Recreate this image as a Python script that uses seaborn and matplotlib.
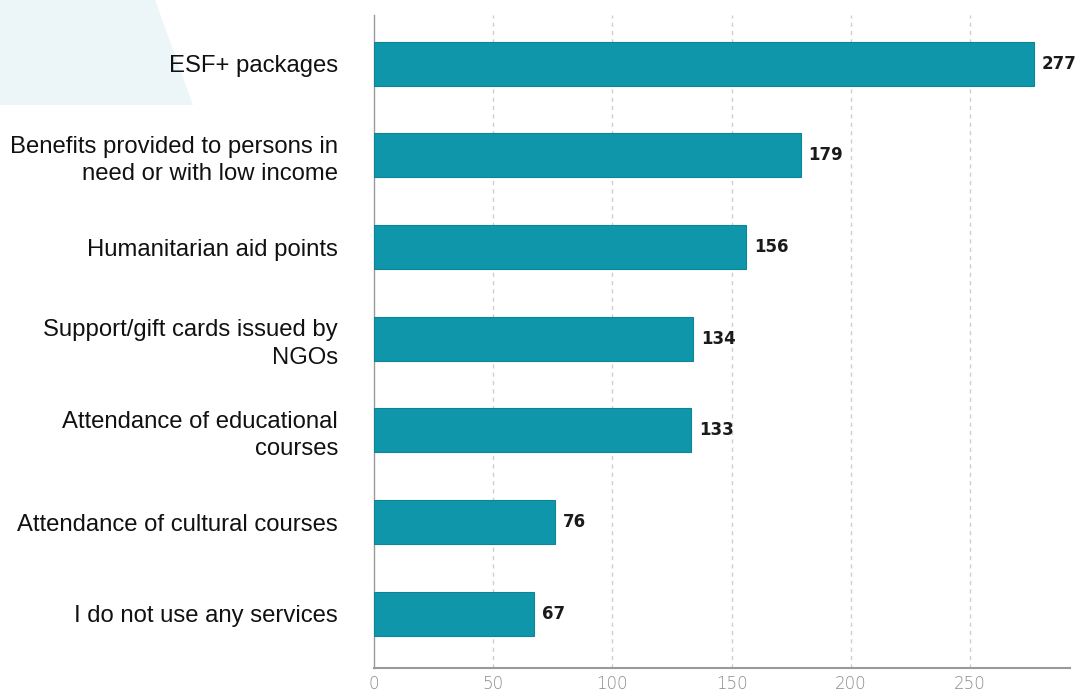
import matplotlib
matplotlib.use("Agg")
import matplotlib.pyplot as plt
import seaborn as sns
import pandas as pd
from matplotlib.patches import Polygon

categories = [
    "ESF+ packages",
    "Benefits provided to persons in\nneed or with low income",
    "Humanitarian aid points",
    "Support/gift cards issued by\nNGOs",
    "Attendance of educational\ncourses",
    "Attendance of cultural courses",
    "I do not use any services",
]
values = [277, 179, 156, 134, 133, 76, 67]
x_ticks = [0, 50, 100, 150, 200, 250]

sns.set_theme(style="white")
plt.rcParams["font.family"] = ["Liberation Sans", "DejaVu Sans"]

df = pd.DataFrame({"service": categories, "count": values})

fig = plt.figure(figsize=(10.88, 6.93), dpi=100)

# pale decorative shape in the top-left corner, behind everything else
shape = Polygon([(0, 1.0), (155 / 1088, 1.0), (193 / 1088, 1 - 105 / 693), (0, 1 - 105 / 693)],
                closed=True, transform=fig.transFigure, facecolor="#ecf5f7",
                edgecolor="none", zorder=-5)
fig.patches.append(shape)

ax = fig.add_axes([374 / 1088, 1 - 668 / 693, (1070 - 374) / 1088, (668 - 15) / 693])
ax.set_facecolor("none")
ax.set_zorder(2)

sns.barplot(data=df, x="count", y="service", color="#0f96ab", saturation=1, width=0.48,
            edgecolor="#0e8497", linewidth=0.8, ax=ax, zorder=3)

ax.set_xlim(0, 292)
ax.set_ylim(6.59, -0.53)
ax.set_xticks(x_ticks)
ax.set_xticklabels([str(t) for t in x_ticks], fontfamily="DejaVu Sans",
                   fontweight="light", color="#8a8a8a", fontsize=12)
ax.tick_params(axis="x", length=0, pad=5)
ax.tick_params(axis="y", length=0, pad=26)
for lbl in ax.get_yticklabels():
    lbl.set_fontsize(17.2)
    lbl.set_color("#111111")
    lbl.set_linespacing(1.32)
    lbl.set_horizontalalignment("right")
ax.set_xlabel("")
ax.set_ylabel("")

for x in x_ticks[1:]:
    ax.axvline(x, color="#cfcfcf", linestyle=(0, (3, 3)), linewidth=1.0, zorder=1)

for s in ["top", "right"]:
    ax.spines[s].set_visible(False)
ax.spines["left"].set_color("#9a9a9a")
ax.spines["bottom"].set_color("#9a9a9a")
ax.spines["left"].set_linewidth(1.0)
ax.spines["bottom"].set_linewidth(1.5)

for i, v in enumerate(values):
    ax.text(v + 3.3, i, str(v), va="center", ha="left", fontsize=12,
            fontfamily="DejaVu Sans", fontweight="bold", color="#1a1a1a", zorder=4)

fig.savefig("out.png", dpi=100)
